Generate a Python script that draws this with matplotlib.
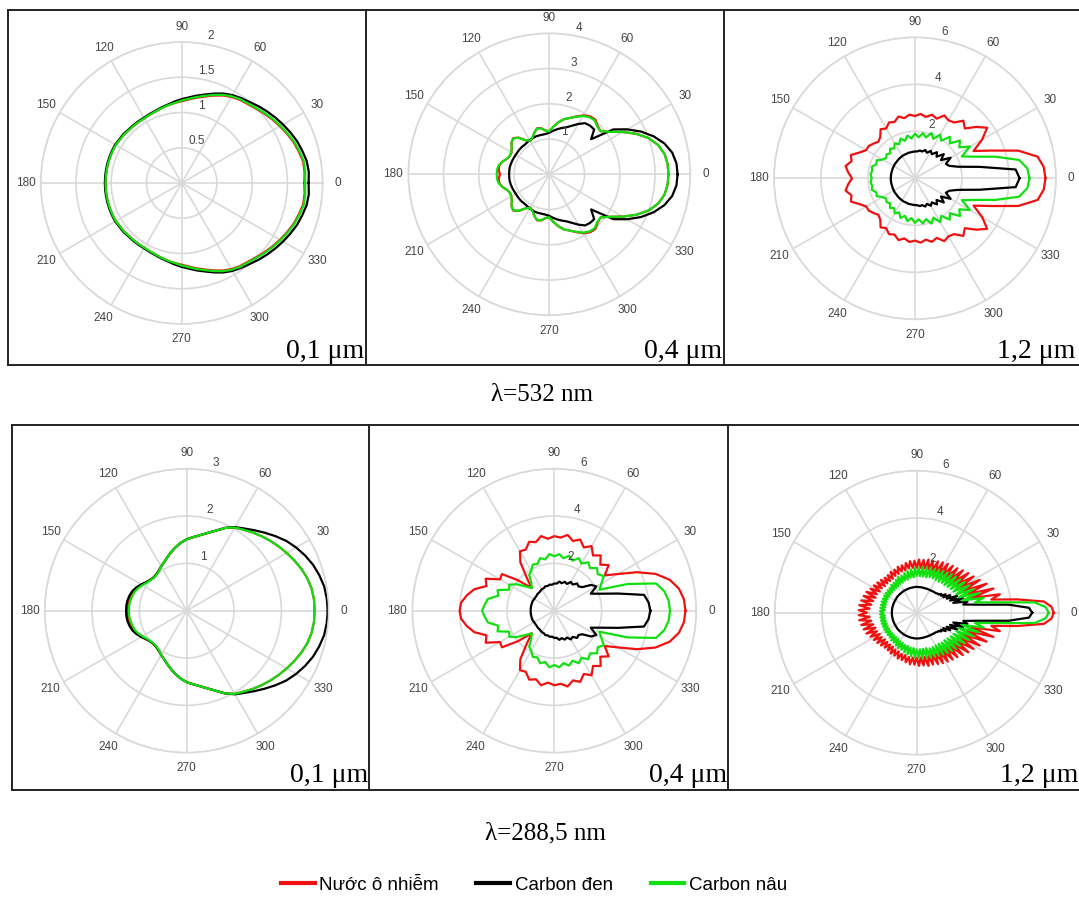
import numpy as np
import matplotlib.pyplot as plt
from matplotlib.lines import Line2D

plt.rcParams['font.family'] = ['Liberation Sans', 'DejaVu Sans']

# phase function values, 0..180 deg (curves are symmetric)
# --- lambda = 532 nm, 0.1 um (step 5 deg)
p1_red = [1.74, 1.75, 1.75, 1.72, 1.69, 1.65, 1.61, 1.57, 1.53, 1.49,
          1.46, 1.44, 1.41, 1.37, 1.32, 1.27, 1.23, 1.19, 1.16, 1.14,
          1.12, 1.10, 1.08, 1.07, 1.06, 1.06, 1.06, 1.06, 1.07, 1.07,
          1.08, 1.08, 1.08, 1.08, 1.08, 1.08, 1.08]
p1_black = [1.80, 1.81, 1.80, 1.77, 1.74, 1.70, 1.66, 1.62, 1.58, 1.54,
            1.50, 1.47, 1.44, 1.40, 1.35, 1.30, 1.26, 1.22, 1.19, 1.16,
            1.13, 1.11, 1.09, 1.08, 1.07, 1.07, 1.07, 1.07, 1.08, 1.08,
            1.09, 1.09, 1.09, 1.09, 1.09, 1.09, 1.09]
p1_green = [1.75, 1.76, 1.76, 1.73, 1.70, 1.66, 1.62, 1.58, 1.54, 1.50,
            1.47, 1.45, 1.42, 1.38, 1.33, 1.28, 1.24, 1.20, 1.17, 1.14,
            1.12, 1.10, 1.08, 1.07, 1.06, 1.06, 1.06, 1.06, 1.07, 1.07,
            1.08, 1.08, 1.08, 1.08, 1.08, 1.08, 1.08]

# --- lambda = 532 nm, 0.4 um (step 5 deg)
p2_red = [3.38, 3.37, 3.32, 3.20, 3.00, 2.72, 2.40, 2.10, 1.90, 1.94,
          2.03, 2.01, 1.93, 1.81, 1.70, 1.62, 1.50, 1.36, 1.22, 1.25,
          1.33, 1.35, 1.25, 1.13, 1.09, 1.18, 1.36, 1.45, 1.40, 1.30,
          1.24, 1.23, 1.28, 1.38, 1.44, 1.44, 1.40]
p2_black = [3.64, 3.62, 3.54, 3.38, 3.15, 2.87, 2.55, 2.22, 1.55, 1.80,
            1.80, 1.77, 1.65, 1.52, 1.42, 1.36, 1.30, 1.24, 1.18, 1.15,
            1.14, 1.14, 1.14, 1.13, 1.12, 1.10, 1.09, 1.10, 1.10, 1.10,
            1.10, 1.11, 1.12, 1.13, 1.14, 1.14, 1.14]
p2_green = [3.38, 3.37, 3.32, 3.20, 3.00, 2.72, 2.40, 2.10, 1.90, 1.92,
            2.00, 1.98, 1.91, 1.80, 1.70, 1.62, 1.50, 1.36, 1.22, 1.24,
            1.32, 1.34, 1.25, 1.14, 1.10, 1.18, 1.35, 1.44, 1.40, 1.30,
            1.25, 1.24, 1.28, 1.38, 1.46, 1.49, 1.49]

# --- lambda = 532 nm, 1.2 um (step 5 deg)
p3_red = [5.55, 5.50, 5.30, 4.55, 3.45, 2.75, 3.30, 3.75, 3.40, 3.00,
          3.20, 2.90, 2.85, 2.95, 2.70, 2.80, 2.65, 2.75, 2.65, 2.72,
          2.60, 2.72, 2.55, 2.62, 2.45, 2.55, 2.30, 2.20, 2.30, 2.40,
          2.40, 2.60, 2.90, 2.80, 3.00, 2.85, 2.68]
p3_black = [4.45, 4.30, 2.80, 1.90, 1.55, 1.45, 1.75, 1.35, 1.60, 1.30,
            1.45, 1.25, 1.35, 1.20, 1.28, 1.18, 1.20, 1.15, 1.14, 1.13,
            1.12, 1.12, 1.10, 1.10, 1.09, 1.08, 1.07, 1.06, 1.05, 1.05,
            1.04, 1.04, 1.03, 1.03, 1.03, 1.03, 1.03]
p3_green = [4.87, 4.80, 4.50, 3.55, 2.69, 2.20, 2.70, 2.30, 2.50, 2.10,
            2.30, 1.95, 2.15, 1.85, 2.05, 1.80, 1.95, 1.75, 1.90, 1.70,
            1.85, 1.65, 1.80, 1.60, 1.72, 1.55, 1.65, 1.50, 1.58, 1.50,
            1.60, 1.80, 1.75, 1.90, 1.85, 1.90, 1.84]

# --- lambda = 288.5 nm, 0.1 um (step 5 deg)
p4_red = [2.70, 2.70, 2.68, 2.64, 2.58, 2.51, 2.44, 2.37, 2.30, 2.23,
          2.16, 2.09, 2.03, 1.93, 1.80, 1.70, 1.62, 1.56, 1.51, 1.44,
          1.36, 1.28, 1.20, 1.13, 1.08, 1.03, 1.00, 0.99, 1.01, 1.04,
          1.10, 1.15, 1.20, 1.22, 1.24, 1.25, 1.25]
p4_black = [2.98, 2.97, 2.95, 2.90, 2.84, 2.76, 2.67, 2.57, 2.45, 2.33,
            2.22, 2.12, 2.04, 1.93, 1.80, 1.70, 1.62, 1.56, 1.51, 1.44,
            1.36, 1.28, 1.20, 1.13, 1.08, 1.03, 1.00, 0.99, 1.01, 1.05,
            1.11, 1.17, 1.22, 1.25, 1.27, 1.28, 1.28]
p4_green = [2.70, 2.70, 2.68, 2.64, 2.58, 2.51, 2.44, 2.37, 2.30, 2.23,
            2.16, 2.09, 2.03, 1.93, 1.80, 1.70, 1.62, 1.56, 1.51, 1.44,
            1.36, 1.28, 1.20, 1.13, 1.08, 1.02, 0.99, 0.98, 1.00, 1.03,
            1.08, 1.13, 1.17, 1.19, 1.21, 1.22, 1.22]

# --- lambda = 288.5 nm, 0.4 um (step 5 deg)
p5_red = [5.54, 5.50, 5.35, 5.05, 4.55, 3.85, 3.10, 2.60, 3.00, 2.75,
          3.05, 2.85, 3.15, 2.95, 3.20, 3.05, 3.25, 3.10, 3.15, 3.05,
          3.20, 3.00, 3.10, 2.85, 2.90, 2.50, 1.80, 1.35, 2.00, 2.70,
          2.65, 3.20, 3.05, 3.50, 3.75, 3.95, 4.00]
p5_black = [4.06, 4.00, 3.85, 2.80, 2.10, 1.70, 2.05, 1.90, 1.55, 1.45,
            1.50, 1.35, 1.40, 1.25, 1.30, 1.20, 1.25, 1.15, 1.15, 1.10,
            1.12, 1.08, 1.10, 1.05, 1.05, 1.02, 1.00, 1.00, 0.98, 0.98,
            0.98, 1.00, 1.00, 1.00, 1.00, 1.00, 1.00]
p5_green = [4.89, 4.85, 4.72, 4.45, 3.30, 2.10, 2.30, 2.55, 2.40, 2.55,
            2.35, 2.50, 2.30, 2.45, 2.25, 2.40, 2.25, 2.40, 2.30, 2.40,
            2.20, 2.30, 2.10, 2.15, 1.95, 1.85, 1.50, 1.35, 1.60, 1.95,
            2.20, 2.10, 2.55, 2.45, 2.85, 2.95, 3.05]

# --- lambda = 288.5 nm, 1.2 um (step 2.5 deg)
p6_red = [5.79, 5.70, 5.40, 4.30, 3.20, 3.60, 2.40, 3.40, 2.30, 3.20,
          2.20, 3.00, 2.15, 2.85, 2.10, 2.75, 2.05, 2.65, 2.00, 2.55,
          1.95, 2.50, 1.95, 2.45, 1.90, 2.40, 1.90, 2.35, 1.90, 2.30,
          1.90, 2.30, 1.90, 2.25, 1.90, 2.25, 1.90, 2.20, 1.90, 2.20,
          1.90, 2.15, 1.85, 2.10, 1.85, 2.10, 1.80, 2.05, 1.80, 2.05,
          1.75, 2.00, 1.75, 2.00, 1.75, 2.05, 1.75, 2.10, 1.80, 2.15,
          1.80, 2.20, 1.85, 2.30, 1.85, 2.35, 1.90, 2.40, 1.95, 2.45,
          2.00, 2.45, 2.10]
p6_black = [4.88, 4.75, 3.90, 2.60, 2.00, 2.20, 1.60, 2.05, 1.50, 1.85,
            1.40, 1.60, 1.30, 1.45, 1.25, 1.30, 1.20, 1.20, 1.16, 1.15,
            1.14, 1.13, 1.12, 1.11, 1.11, 1.10, 1.10, 1.10, 1.09, 1.09,
            1.09, 1.09, 1.09, 1.09, 1.09, 1.09, 1.09, 1.09, 1.09, 1.08,
            1.08, 1.08, 1.08, 1.08, 1.07, 1.07, 1.07, 1.07, 1.07, 1.07,
            1.06, 1.06, 1.06, 1.06, 1.06, 1.06, 1.06, 1.06, 1.05, 1.05,
            1.05, 1.05, 1.05, 1.05, 1.05, 1.05, 1.05, 1.05, 1.05, 1.05,
            1.05, 1.05, 1.05]
p6_green = [5.58, 5.45, 5.00, 3.37, 2.50, 2.90, 2.00, 2.75, 1.90, 2.60,
            1.85, 2.50, 1.80, 2.40, 1.75, 2.30, 1.70, 2.25, 1.65, 2.20,
            1.65, 2.15, 1.60, 2.10, 1.60, 2.05, 1.60, 2.00, 1.60, 2.00,
            1.55, 1.95, 1.55, 1.95, 1.55, 1.90, 1.55, 1.90, 1.50, 1.85,
            1.50, 1.80, 1.45, 1.75, 1.45, 1.70, 1.40, 1.70, 1.40, 1.65,
            1.35, 1.60, 1.35, 1.60, 1.35, 1.55, 1.35, 1.55, 1.35, 1.55,
            1.35, 1.55, 1.35, 1.55, 1.35, 1.55, 1.35, 1.55, 1.35, 1.55,
            1.35, 1.55, 1.40]

series_labels = ['Nước ô nhiễm', 'Carbon đen', 'Carbon nâu']
series_colors = ['#f01010', '#000000', '#10e010']
size_labels = ['0,1 μm', '0,4 μm', '1,2 μm']
wave_labels = ['λ=532 nm', 'λ=288,5 nm']
theta_ticks = list(range(0, 360, 30))

W, H = 1079, 905
fig = plt.figure(figsize=(W / 100, H / 100), dpi=100)


def full_circle(half, step):
    half = np.asarray(half)
    ang = np.arange(len(half)) * step
    th = np.concatenate([ang, 360 - ang[-2::-1]])
    r = np.concatenate([half, half[-2::-1]])
    return np.deg2rad(th), r


def fline(x0, y0, x1, y1):
    fig.add_artist(Line2D([x0 / W, x1 / W], [1 - y0 / H, 1 - y1 / H],
                          transform=fig.transFigure, color='#222222', lw=1.4))


panels = [
    # data, step, rmax, rticks, tick labels, centre px, radius px
    ((p1_red, p1_black, p1_green), 5, 2, [0.5, 1, 1.5, 2], ['0.5', '1', '1.5', '2'], (181.7, 183), 141),
    ((p2_red, p2_black, p2_green), 5, 4, [1, 2, 3, 4], ['1', '2', '3', '4'], (549.3, 174.3), 141),
    ((p3_red, p3_black, p3_green), 5, 6, [2, 4, 6], ['2', '4', '6'], (915, 178.3), 141),
    ((p4_red, p4_black, p4_green), 5, 3, [1, 2, 3], ['1', '2', '3'], (186.7, 610.7), 142),
    ((p5_red, p5_black, p5_green), 5, 6, [2, 4, 6], ['2', '4', '6'], (554.3, 610.7), 142),
    ((p6_red, p6_black, p6_green), 2.5, 6, [2, 4, 6], ['2', '4', '6'], (916.7, 612.7), 142),
]

for i, (data, step, rmax, rticks, rlabels, (cx, cy), R) in enumerate(panels):
    ax = fig.add_axes([(cx - R) / W, 1 - (cy + R) / H, 2 * R / W, 2 * R / H],
                      projection='polar')
    for vals, col in zip(data, series_colors):
        th, r = full_circle(vals, step)
        ax.plot(th, r, color=col, lw=1.6)
    ax.set_ylim(0, rmax)
    ax.set_yticks(rticks)
    ax.set_yticklabels([])
    ax.set_xticks(np.deg2rad(theta_ticks))
    ax.set_xticklabels([str(t) for t in theta_ticks], fontsize=8.5, color='#444444')
    ax.tick_params(axis='x', pad=0.5)
    ax.grid(True, color='#d9d9d9', lw=1.2)
    ax.spines['polar'].set_color('#d9d9d9')
    ax.spines['polar'].set_linewidth(1.2)
    for rt, lab in zip(rticks, rlabels):
        ax.annotate(lab, xy=(np.deg2rad(82), rt), xytext=(7, 5),
                    textcoords='offset points', ha='center', va='center',
                    fontsize=8.5, color='#444444')

# panel frames
fline(8, 10, 1079, 10)
fline(8, 365, 1079, 365)
for x in (8, 366, 724):
    fline(x, 10, x, 365)
fline(12, 425, 1079, 425)
fline(12, 790, 1079, 790)
for x in (12, 369, 728):
    fline(x, 425, x, 790)

# size captions
for j, xr in enumerate((364, 722, 1075)):
    fig.text(xr / W, 1 - 358 / H, size_labels[j], ha='right', va='baseline',
             fontsize=20, family='Liberation Serif')
for j, xr in enumerate((368, 727, 1078)):
    fig.text(xr / W, 1 - 782 / H, size_labels[j], ha='right', va='baseline',
             fontsize=20, family='Liberation Serif')

fig.text(542 / W, 1 - 395 / H, wave_labels[0], ha='center', va='center',
         fontsize=18, family='Liberation Serif')
fig.text(545 / W, 1 - 833 / H, wave_labels[1], ha='center', va='center',
         fontsize=18, family='Liberation Serif')

handles = [Line2D([], [], color=c, lw=3) for c in series_colors]
fig.legend(handles, series_labels, loc='center', bbox_to_anchor=(534 / W, 1 - 885 / H),
           ncol=3, frameon=False, fontsize=13.5, handlelength=1.8,
           handletextpad=0.25, columnspacing=2.0)

fig.savefig('out.png', dpi=100, facecolor='white')
